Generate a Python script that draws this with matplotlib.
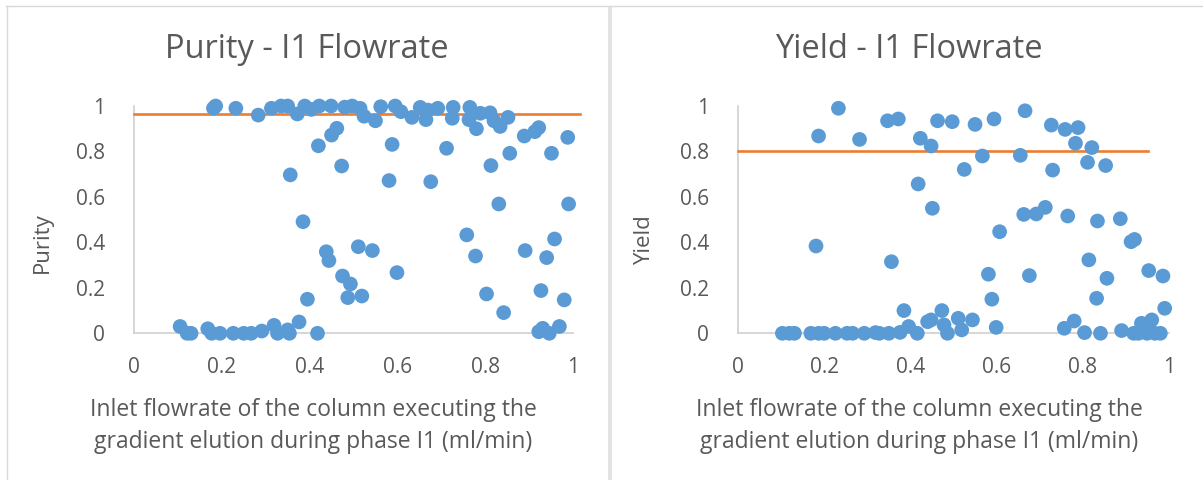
import matplotlib
matplotlib.use("Agg")
import matplotlib.pyplot as plt
from matplotlib.lines import Line2D
from matplotlib.patches import Rectangle

plt.rcParams['font.family'] = ['Open Sans', 'DejaVu Sans']

# ---------------- data ----------------
purity_x = [0.105, 0.121, 0.130, 0.168, 0.177, 0.196, 0.226, 0.250, 0.267, 0.291,
            0.319, 0.327, 0.350, 0.354, 0.376, 0.418,
            0.181, 0.186, 0.232, 0.283, 0.313, 0.335, 0.350, 0.372, 0.389, 0.404,
            0.422, 0.449, 0.480, 0.497, 0.515, 0.524, 0.550, 0.562, 0.595, 0.608,
            0.633, 0.652, 0.665, 0.670, 0.692, 0.727, 0.725, 0.765, 0.763, 0.780,
            0.789, 0.811, 0.820, 0.834, 0.852, 0.889, 0.913, 0.922, 0.988,
            0.420, 0.450, 0.462, 0.473, 0.356, 0.385, 0.395, 0.438, 0.444, 0.475,
            0.493, 0.487, 0.511, 0.519, 0.543, 0.581, 0.588, 0.599, 0.676, 0.712,
            0.758, 0.778, 0.803, 0.813, 0.831, 0.842, 0.856, 0.891, 0.927, 0.940,
            0.951, 0.958, 0.980, 0.990, 0.922, 0.931, 0.946, 0.969]
purity_y = [0.030, 0.000, 0.000, 0.020, 0.000, 0.000, 0.000, 0.000, 0.000, 0.010,
            0.035, 0.000, 0.015, 0.000, 0.050, 0.000,
            0.990, 1.000, 0.990, 0.960, 0.990, 1.000, 1.000, 0.965, 1.000, 0.985,
            1.000, 1.000, 0.995, 1.000, 0.990, 0.955, 0.935, 0.997, 1.000, 0.975,
            0.950, 0.994, 0.940, 0.982, 0.990, 0.994, 0.946, 0.994, 0.940, 0.900,
            0.968, 0.970, 0.935, 0.910, 0.950, 0.868, 0.887, 0.905, 0.862,
            0.825, 0.872, 0.902, 0.736, 0.697, 0.491, 0.150, 0.359, 0.320, 0.252,
            0.217, 0.157, 0.381, 0.164, 0.364, 0.672, 0.831, 0.267, 0.667, 0.814,
            0.433, 0.340, 0.173, 0.738, 0.569, 0.091, 0.792, 0.364, 0.188, 0.333,
            0.792, 0.415, 0.147, 0.569, 0.007, 0.022, 0.000, 0.030]
purity_threshold_x = [0.0, 1.016]
purity_threshold_y = [0.965, 0.965]

yield_x = [0.103, 0.119, 0.131, 0.169, 0.187, 0.200, 0.226, 0.253, 0.266, 0.293,
           0.319, 0.328, 0.350, 0.376, 0.396, 0.416,
           0.187, 0.233, 0.282, 0.347, 0.372, 0.423, 0.448, 0.463, 0.497, 0.550,
           0.594, 0.666, 0.727, 0.759, 0.789, 0.783, 0.821, 0.525, 0.567, 0.655,
           0.730, 0.811, 0.853,
           0.418, 0.451, 0.181, 0.356, 0.607, 0.663, 0.692, 0.713, 0.765, 0.834,
           0.887, 0.912, 0.920, 0.581, 0.676, 0.589, 0.814, 0.856, 0.832, 0.953,
           0.986, 0.990,
           0.385, 0.473, 0.440, 0.448, 0.478, 0.486, 0.511, 0.519, 0.544, 0.599,
           0.757, 0.780, 0.804, 0.841, 0.890, 0.936, 0.960, 0.918, 0.929, 0.949,
           0.967, 0.980]
yield_y = [0.000, 0.000, 0.000, 0.000, 0.000, 0.000, 0.000, 0.000, 0.000, 0.000,
           0.003, 0.000, 0.000, 0.004, 0.030, 0.000,
           0.868, 0.990, 0.853, 0.935, 0.943, 0.858, 0.824, 0.935, 0.931, 0.919,
           0.943, 0.979, 0.916, 0.897, 0.905, 0.836, 0.817, 0.721, 0.780, 0.783,
           0.718, 0.752, 0.738,
           0.657, 0.550, 0.384, 0.315, 0.447, 0.523, 0.525, 0.554, 0.516, 0.494,
           0.504, 0.403, 0.413, 0.260, 0.254, 0.150, 0.323, 0.242, 0.154, 0.276,
           0.252, 0.110,
           0.100, 0.100, 0.051, 0.059, 0.037, 0.000, 0.066, 0.015, 0.059, 0.026,
           0.022, 0.054, 0.003, 0.000, 0.012, 0.044, 0.059, 0.000, 0.000, 0.000,
           0.000, 0.000]
yield_threshold_x = [0.0, 0.951]
yield_threshold_y = [0.80, 0.80]

x_ticks = [0, 0.2, 0.4, 0.6, 0.8, 1]
x_ticklabels = ["0", "0.2", "0.4", "0.6", "0.8", "1"]
y_ticks = [0, 0.2, 0.4, 0.6, 0.8, 1]
y_ticklabels = ["0", "0.2", "0.4", "0.6", "0.8", "1"]

xlabel_text = "Inlet flowrate of the column executing the\ngradient elution during phase I1 (ml/min)"

# ---------------- style ----------------
W, H = 1203, 480
DPI = 100
BLUE = "#5B9BD5"
ORANGE = "#ED7D31"
TEXT = "#595959"
SPINE = "#D0D0D0"

fig = plt.figure(figsize=(W / DPI, H / DPI), dpi=DPI)
fig.patch.set_facecolor("white")


def px_box(x0, x1, y_top, y_bot):
    return [x0 / W, 1 - y_bot / H, (x1 - x0) / W, (y_bot - y_top) / H]


def draw_panel(rect, xs, ys, tx, ty, title, ylabel, title_cx, ylab_cx, xlab_cx, ylab_cy):
    ax = fig.add_axes(rect)
    ax.set_xlim(0, 1)
    ax.set_ylim(0, 1)
    ax.plot(tx, ty, color=ORANGE, lw=1.9, clip_on=False, zorder=2)
    ax.scatter(xs, ys, s=112, color=BLUE, edgecolors="none", clip_on=False, zorder=3)
    for s in ["top", "right"]:
        ax.spines[s].set_visible(False)
    for s in ["left", "bottom"]:
        ax.spines[s].set_color(SPINE)
        ax.spines[s].set_linewidth(1.2)
        ax.spines[s].set_zorder(1)
    ax.set_xticks(x_ticks)
    ax.set_xticklabels(x_ticklabels)
    ax.set_yticks(y_ticks)
    ax.set_yticklabels(y_ticklabels)
    ax.tick_params(axis="both", length=0, labelsize=15, labelcolor=TEXT)
    ax.tick_params(axis="x", pad=17)
    ax.tick_params(axis="y", pad=21)
    ax.patch.set_alpha(0)
    fig.text(title_cx / W, 1 - 50 / H, title, ha="center", va="center",
             fontsize=23.5, color=TEXT)
    fig.text(ylab_cx / W, 1 - ylab_cy / H, ylabel, ha="center", va="center",
             rotation=90, fontsize=16, color=TEXT)
    fig.text(xlab_cx / W, 1 - 426 / H, xlabel_text, ha="center", va="center",
             fontsize=16.5, color=TEXT, linespacing=1.5)
    return ax


draw_panel(px_box(134, 573, 106, 333.3), purity_x, purity_y,
           purity_threshold_x, purity_threshold_y,
           "Purity - I1 Flowrate", "Purity", 307, 42, 313, 243)
draw_panel(px_box(738, 1169, 106, 333.3), yield_x, yield_y,
           yield_threshold_x, yield_threshold_y,
           "Yield - I1 Flowrate", "Yield", 909, 645, 919, 240)

# panel borders
fig.add_artist(Line2D([6 / W, 1], [1 - 6 / H, 1 - 6 / H], color="#D9D9D9", lw=1.0))
fig.add_artist(Line2D([7 / W, 7 / W], [0, 1 - 6 / H], color="#D9D9D9", lw=1.0))
fig.add_artist(Rectangle((608 / W, 0), 4 / W, 1 - 6 / H, transform=fig.transFigure,
                         facecolor="#E3E3E3", edgecolor="none"))

fig.savefig("out.png", dpi=DPI, facecolor="white")
